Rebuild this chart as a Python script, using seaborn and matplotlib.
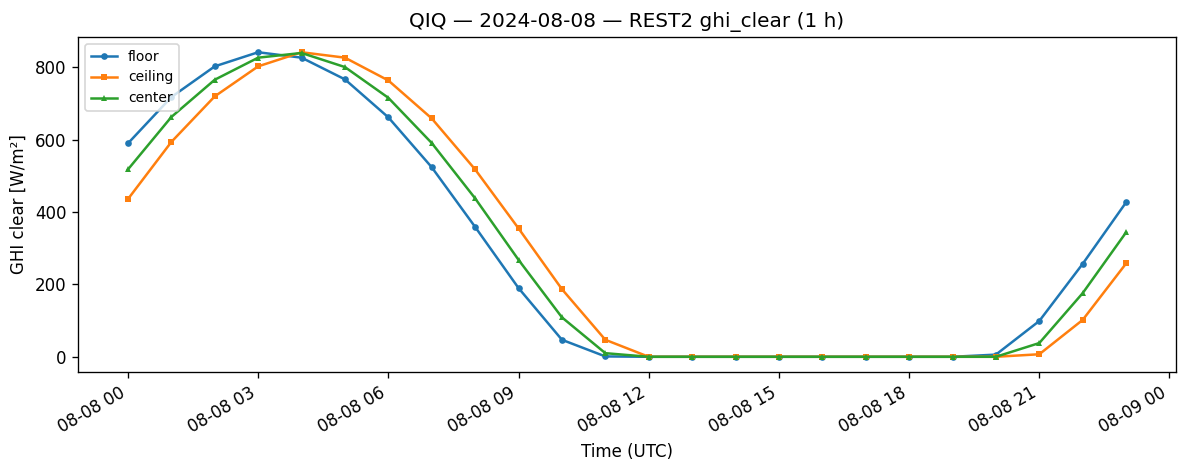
import matplotlib
matplotlib.use("Agg")
import matplotlib.pyplot as plt
import matplotlib.dates as mdates
import seaborn as sns
import pandas as pd

hours = pd.date_range("2024-08-08 00:00", periods=24, freq="h")
floor = [590, 718, 803, 842, 827, 767, 662, 524, 359, 190, 47, 1,
         0, 0, 0, 0, 0, 0, 0, 0, 6, 99, 257, 427]
ceiling = [436, 594, 720, 803, 842, 827, 764, 659, 518, 355, 187, 47,
           0, 0, 0, 0, 0, 0, 0, 0, 0, 7, 102, 258]
center = [518, 663, 766, 827, 840, 801, 716, 591, 438, 268, 109, 10,
          0, 0, 0, 0, 0, 0, 0, 0, 0, 38, 176, 344]

series = [("floor", floor, "o", "#1f77b4"),
          ("ceiling", ceiling, "s", "#ff7f0e"),
          ("center", center, "^", "#2ca02c")]

fig, ax = plt.subplots(figsize=(9.9, 3.9), dpi=120)
for name, vals, mk, col in series:
    sns.lineplot(x=hours, y=vals, ax=ax, label=name, marker=mk, color=col,
                 markersize=4, markeredgewidth=0, linewidth=1.5)

ax.set_title("QIQ — 2024-08-08 — REST2 ghi_clear (1 h)")
ax.set_xlabel("Time (UTC)")
ax.set_ylabel("GHI clear [W/m²]")
ax.xaxis.set_major_locator(mdates.HourLocator(byhour=range(0, 24, 3)))
ax.xaxis.set_major_formatter(mdates.DateFormatter("%m-%d %H"))
ax.legend(loc="upper left", fontsize="small", handlelength=1.9)
fig.autofmt_xdate()
fig.subplots_adjust(left=0.0657, right=0.9899, top=0.9209, bottom=0.2051)
fig.savefig("out.png", dpi=120)
